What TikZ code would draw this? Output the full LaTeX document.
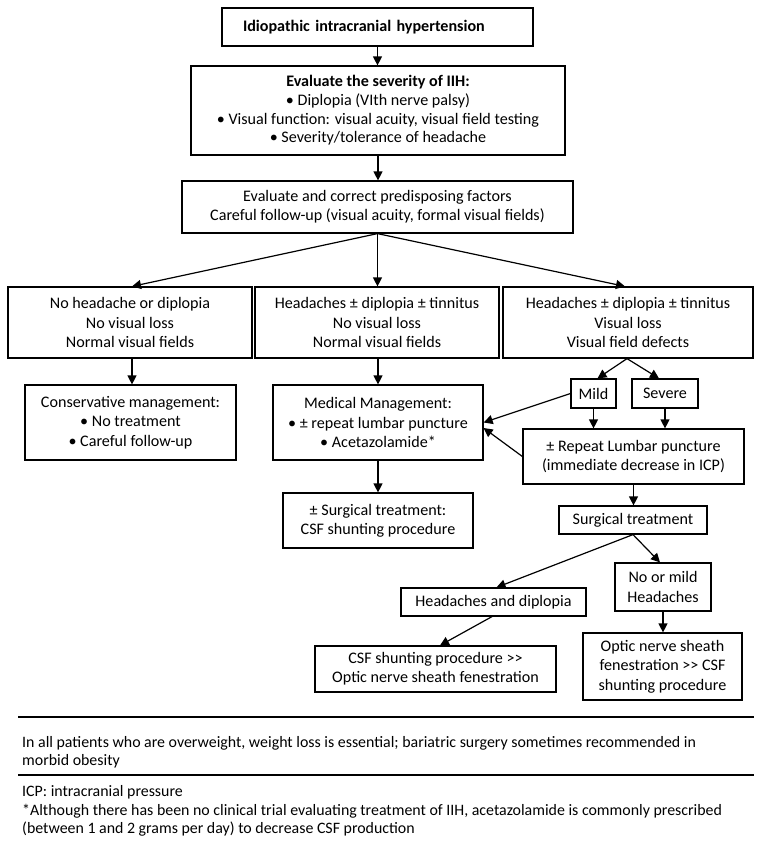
\documentclass[tikz,border=0pt]{standalone}
\usepackage{fontspec}
\setmainfont{Carlito}
\usetikzlibrary{arrows.meta}
\begin{document}
\begin{tikzpicture}[x=1pt,y=-1pt,
  box/.style={draw, line width=1.2pt, align=center, inner sep=0pt, font=\fontsize{16.1}{19.3}\selectfont},
  arr/.style={draw, line width=1.2pt, -{Triangle[length=9pt,width=9pt]}},
  rulebar/.style={line width=1.8pt},
  note/.style={anchor=base west, inner sep=0pt, font=\fontsize{15.9}{18.4}\selectfont}]
\useasboundingbox (0,0) rectangle (762,844);

% boxes
\node[box, minimum width=311, minimum height=38, text width=269, inner xsep=21pt, align=left] (b1) at (377.5,27) {\textbf{Idiopathic intracranial hypertension}};
\node[box, minimum width=374, minimum height=89, font=\fontsize{16.1}{18.7}\selectfont] (b2) at (378,110.5) {\textbf{Evaluate the severity of IIH:}\\ • Diplopia (VIth nerve palsy)\\ • Visual function: visual acuity, visual field testing\\ • Severity/tolerance of headache};
\node[box, minimum width=391, minimum height=52] (b3) at (377.5,207) {Evaluate and correct predisposing factors\\ Careful follow-up (visual acuity, formal visual fields)};

\node[box, minimum width=244, minimum height=71] (rL) at (130,322.5) {No headache or diplopia\\ No visual loss\\ Normal visual fields};
\node[box, minimum width=244, minimum height=71] (rM) at (377,322.5) {Headaches ± diplopia ± tinnitus\\ No visual loss\\ Normal visual fields};
\node[box, minimum width=250, minimum height=71] (rR) at (628,322.5) {Headaches ± diplopia ± tinnitus\\ Visual loss\\ Visual field defects};

\node[box, minimum width=211, minimum height=75] (cons) at (130.5,422.5) {Conservative management:\\ • No treatment\\ • Careful follow-up};
\node[box, minimum width=210, minimum height=75] (med) at (378,422.5) {Medical Management:\\ • ± repeat lumbar puncture\\ • Acetazolamide*};
\node[box, minimum width=45, minimum height=29] (mild) at (593.5,393.5) {Mild};
\node[box, minimum width=66, minimum height=29] (sev) at (665,393.5) {Severe};
\node[box, minimum width=221, minimum height=55] (rlp) at (633.5,456.5) {± Repeat Lumbar puncture\\ (immediate decrease in ICP)};

\node[box, minimum width=190, minimum height=55] (surg1) at (378,520.5) {± Surgical treatment:\\ CSF shunting procedure};
\node[box, minimum width=148, minimum height=28] (surg2) at (633,520) {Surgical treatment};
\node[box, minimum width=185, minimum height=28] (hd) at (493.5,602) {Headaches and diplopia};
\node[box, minimum width=96, minimum height=48] (nomild) at (663,587) {No or mild\\ Headaches};
\node[box, minimum width=241, minimum height=46] (csf) at (435.5,669) {CSF shunting procedure >{}>\\ Optic nerve sheath fenestration};
\node[box, minimum width=159, minimum height=67] (optic) at (662.5,666.5) {Optic nerve sheath\\ fenestration >{}> CSF\\ shunting procedure};

% connectors
\draw[arr] (b1.south) -- (b1.south |- b2.north);
\draw[arr] (b2.south) -- (b2.south |- b3.north);
\draw[arr] (b3.south) -- ([xshift=2pt]rL.north);
\draw[arr] (b3.south) -- (b3.south |- rM.north);
\draw[arr] (b3.south) -- ([xshift=-3pt]rR.north);
\draw[arr] ([xshift=2pt]rL.south) -- ([xshift=1.5pt]cons.north);
\draw[arr] ([xshift=1pt]rM.south) -- (med.north);
\draw[arr] ([xshift=-1pt]rR.south) -- ([xshift=4pt]mild.north);
\draw[arr] ([xshift=-1pt]rR.south) -- ([xshift=-6pt]sev.north);
\draw[arr] (mild.south) -- (mild.south |- rlp.north);
\draw[arr] (sev.south) -- (sev.south |- rlp.north);
\draw[arr] (mild.west) -- (med.east);
\draw[arr] (rlp.west) -- ([yshift=-5.5pt]med.east);
\draw[arr] (med.south) -- (surg1.north);
\draw[arr] (rlp.south) -- (rlp.south |- surg2.north);
\draw[arr] (surg2.south) -- ([xshift=3pt]hd.north);
\draw[arr] (surg2.south) -- ([xshift=-3pt]nomild.north);
\draw[arr] ([xshift=-1.5pt]hd.south) -- ([xshift=4.5pt]csf.north);
\draw[arr] (nomild.south) -- (nomild.south |- optic.north);

% footer
\coordinate (r1a) at (18,717);
\coordinate (r1b) at (754,717);
\coordinate (r2a) at (18,775);
\coordinate (r2b) at (754,775);
\draw[rulebar] (r1a) -- (r1b);
\draw[rulebar] (r2a) -- (r2b);
\node[note] (n1) at (22,747) {In all patients who are overweight, weight loss is essential; bariatric surgery sometimes recommended in};
\node[note] (n2) at (22,765) {morbid obesity};
\node[note] (n3) at (22,796) {ICP: intracranial pressure};
\node[note] (n4) at (22,815) {*Although there has been no clinical trial evaluating treatment of IIH, acetazolamide is commonly prescribed};
\node[note] (n5) at (22,833) {(between 1 and 2 grams per day) to decrease CSF production};
\end{tikzpicture}
\end{document}
